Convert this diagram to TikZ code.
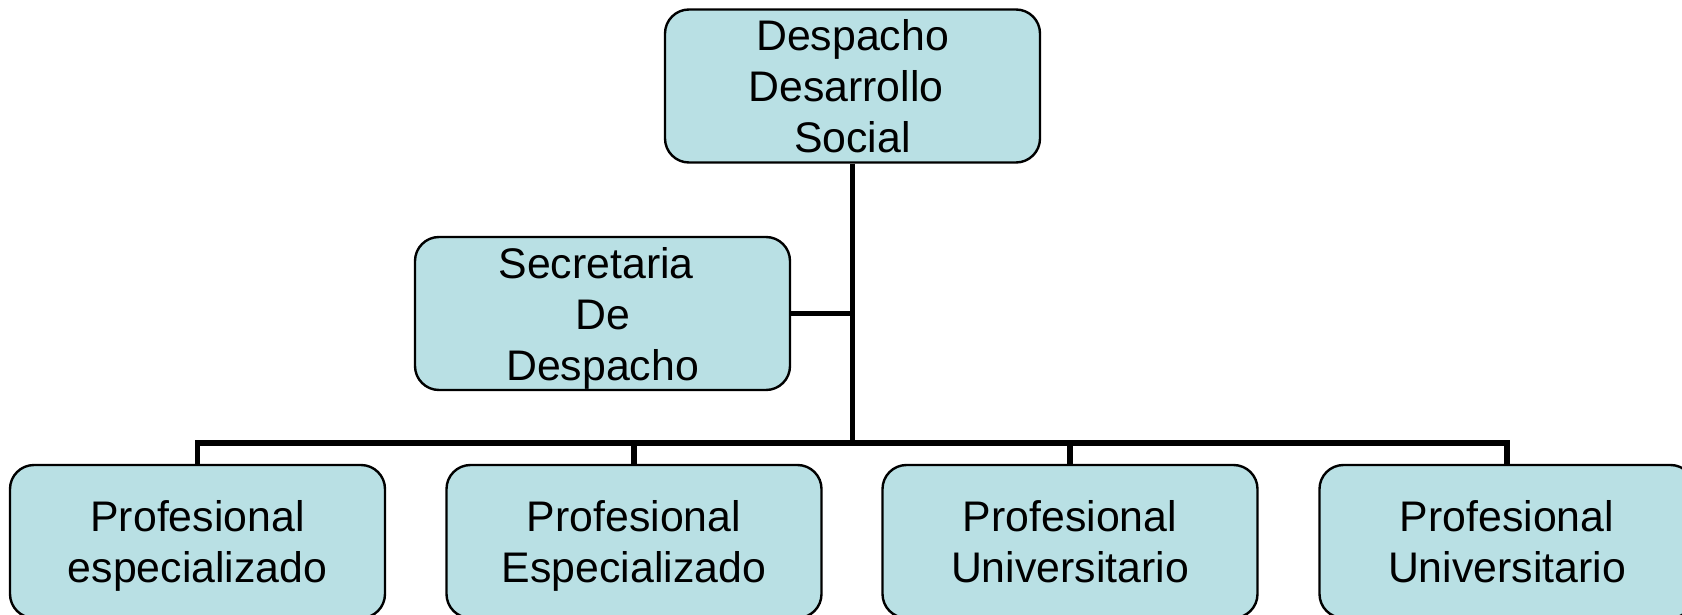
\documentclass[tikz,border=0pt]{standalone}
\usepackage{fontspec}
\setmainfont{Liberation Sans}
\definecolor{boxblue}{RGB}{185,224,228}

\begin{document}
\begin{tikzpicture}[x=0.5pt,y=-0.5pt,
  unit/.style={draw=black,line width=1.2pt,fill=boxblue,rounded corners=12pt,
    minimum width=187.5pt,minimum height=76.5pt,align=center,inner sep=0pt,
    text depth=0pt,font=\fontsize{21.4}{25.5}\selectfont},
  link/.style={line width=2.8pt}]
  \useasboundingbox (0,0) rectangle (1682,615);
  % Top part of the chart
  \node[unit] (D)  at (852.5,86)    {Despacho\\Desarrollo\kern.3em\\Social};
  \node[unit] (S)  at (602.5,313.5) {Secretaria\kern.3em\\De\\Despacho};
  % Bottom row of the chart
  \node[unit] (P1) at (197.5,541.5) {Profesional\\especializado};
  \node[unit] (P2) at (634,541.5)   {Profesional\\Especializado};
  \node[unit] (P3) at (1070,541.5)  {Profesional\\Universitario};
  \node[unit] (P4) at (1507,541.5)  {Profesional\\Universitario};
  \coordinate (bus) at (852.5,443);
  \draw[link] (D.south) -- (bus);
  \draw[link] (S.east) -- (S.east -| D.south);
  \draw[link] (P1.north) |- (bus) -| (P4.north);
  \draw[link] (P2.north) -- (P2.north |- bus);
  \draw[link] (P3.north) -- (P3.north |- bus);
\end{tikzpicture}
\end{document}
